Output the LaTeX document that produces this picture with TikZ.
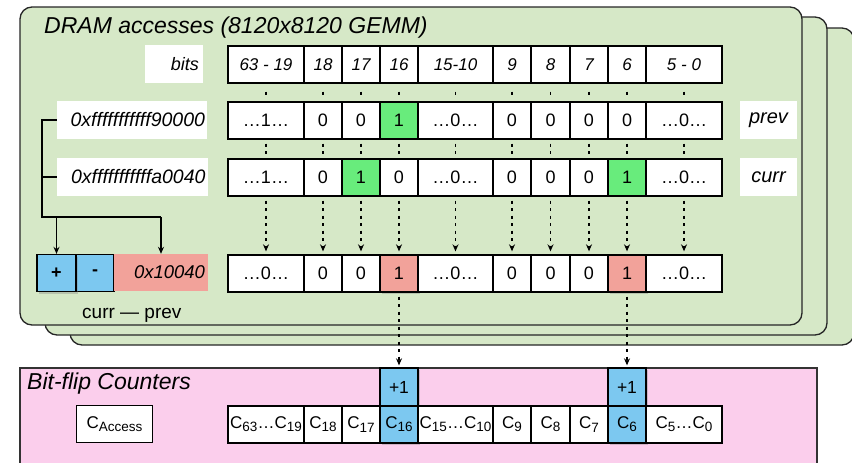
\documentclass[tikz,border=0pt]{standalone}
\usepackage{fontspec}
\setmainfont{Liberation Sans}
\usetikzlibrary{shadows,arrows.meta}
\definecolor{panelgreen}{RGB}{214,232,199}
\definecolor{panelpink}{RGB}{251,206,236}
\definecolor{bitgreen}{RGB}{104,236,124}
\definecolor{salmonc}{RGB}{242,162,154}
\definecolor{blueb}{RGB}{124,200,240}
\newcommand{\fs}[1]{\fontsize{#1}{#1}\selectfont}
\newcommand{\Cn}[1]{C\raisebox{-0.35ex}{\fs{13.5}#1}}
\newcommand{\cellrow}[4]{%
  \foreach \i/\l/\r/\t/\f in {#4} {%
    \pgfmathsetmacro\cx{(\l+\r)/2}%
    \pgfmathsetmacro\w{\r-\l}%
    \node[cell, \f, minimum width=\w pt, font=#3] (#1\i) at (\cx,#2) {\t};
  }%
}
\begin{document}
\begin{tikzpicture}[x=1pt,y=-1pt,
  panel/.style={draw=black!85, line width=1.3pt, fill=panelgreen, rounded corners=12pt},
  cell/.style={draw=black, line width=1.3pt, fill=white, inner sep=0pt, minimum height=37pt},
  wc/.style={fill=white},
  gc/.style={fill=bitgreen},
  sc/.style={fill=salmonc, drop shadow={shadow xshift=1.5pt,shadow yshift=-2pt,opacity=0.35}},
  bc/.style={fill=blueb, drop shadow={shadow xshift=1.5pt,shadow yshift=-2pt,opacity=0.35}},
  lab/.style={fill=white, inner sep=0pt, minimum height=38pt},
  wire/.style={line width=1.3pt},
  dotline/.style={line width=1.3pt, dash pattern=on 3pt off 4.5pt},
  arr/.style={-{Stealth[length=7pt,width=6pt]}},
]
\useasboundingbox (0,0) rectangle (852,463);

% stacked panels
\draw[panel] (70,28) rectangle (854,345);
\draw[panel] (45,17) rectangle (827,335);
\draw[panel] (20,7) rectangle (802,325);

\node[anchor=base west, font=\fs{23}\itshape, inner sep=0pt] (title) at (44,33) {DRAM accesses (8120x8120 GEMM)};

% row labels
\node[lab, minimum width=58pt, text width=50pt, align=right, font=\fs{18}\itshape] (bits) at (174,64) {bits};
\node[lab, minimum width=150pt, text width=146pt, align=right, font=\fs{19.5}\itshape] (plab) at (132,120) {0xfffffffffff90000};
\node[lab, minimum width=151pt, text width=146pt, align=right, font=\fs{19.5}\itshape] (clab) at (132.5,177) {0xfffffffffffa0040};
\node[lab, minimum width=57pt, font=\fs{20}\itshape] (prevl) at (768.5,120) {prev};
\node[lab, minimum width=57pt, font=\fs{20}\itshape] (currl) at (768.5,177) {curr};

% bit rows
\cellrow{h}{64.5}{\fs{17}\itshape}{1/228/304/{63 - 19}/wc, 2/304/342/18/wc, 3/342/380/17/wc, 4/380/418/16/wc, 5/418/493/15-10/wc, 6/493/531/9/wc, 7/531/570/8/wc, 8/570/608/7/wc, 9/608/646/6/wc, 10/646/722/{5 - 0}/wc}
\cellrow{p}{120.5}{\fs{18}}{1/228/304/{…1…}/wc, 2/304/342/0/wc, 3/342/380/0/wc, 4/380/418/1/gc, 5/418/493/{…0…}/wc, 6/493/531/0/wc, 7/531/570/0/wc, 8/570/608/0/wc, 9/608/646/0/wc, 10/646/722/{…0…}/wc}
\cellrow{c}{177.5}{\fs{18}}{1/228/304/{…1…}/wc, 2/304/342/0/wc, 3/342/380/1/gc, 4/380/418/0/wc, 5/418/493/{…0…}/wc, 6/493/531/0/wc, 7/531/570/0/wc, 8/570/608/0/wc, 9/608/646/1/gc, 10/646/722/{…0…}/wc}
\cellrow{r}{273.5}{\fs{18}}{1/228/304/{…0…}/wc, 2/304/342/0/wc, 3/342/380/0/wc, 4/380/418/1/sc, 5/418/493/{…0…}/wc, 6/493/531/0/wc, 7/531/570/0/wc, 8/570/608/0/wc, 9/608/646/1/sc, 10/646/722/{…0…}/wc}

% dotted guides
\foreach \i in {1,...,10} {
  \draw[dotline] ([yshift=-8pt]h\i.south) -- ([yshift=5pt]p\i.north);
  \draw[dotline] ([yshift=-4pt]p\i.south) -- ([yshift=3pt]c\i.north);
  \draw[dotline, arr] ([yshift=-4pt]c\i.south) -- ([yshift=3pt]r\i.north);
}

% subtraction unit
\node[cell, fill=blueb, minimum width=38pt, font=\fs{18}\bfseries] (minus) at (95,273) {-};
\node[cell, bc, minimum width=39pt, font=\fs{18}\bfseries] (plus) at (56.5,273) {+};
\node[fill=salmonc, inner sep=0pt, minimum width=94pt, minimum height=37pt, text width=88pt, align=right, font=\fs{18.5}\itshape] (diff) at (161,272.5) {0x10040};
\node[anchor=base west, font=\fs{19}, inner sep=0pt] (cp) at (82,318) {curr — prev};

\coordinate (j) at (42,217);
\draw[wire] (plab.west) -- (plab.west -| j) -- (j) -- (j -| diff.north);
\draw[wire] (clab.west) -- (clab.west -| j);
\draw[wire, arr] (j -| plus.north) -- (plus.north);
\draw[wire, arr] (j -| diff.north) -- (diff.north);

% bit-flip counters
\draw[draw=black!80, line width=1.3pt, fill=panelpink] (20,368) rectangle (817,480);
\node[anchor=base west, font=\fs{23}\itshape, inner sep=0pt] (bft) at (27,389) {Bit-flip Counters};

\node[cell, bc, minimum width=38pt, minimum height=38pt, font=\fs{17.5}] (inc4) at (399,387) {+1};
\node[cell, bc, minimum width=38pt, minimum height=38pt, font=\fs{17.5}] (inc9) at (627,387) {+1};

\node[cell, minimum width=76pt, font=\fs{17}] (cacc) at (114.5,424) {\Cn{Access}};
\cellrow{k}{424.5}{\fs{17}}{1/228/304/{\Cn{63}…\Cn{19}}/wc, 2/304/342/{\Cn{18}}/wc, 3/342/380/{\Cn{17}}/wc, 4/380/418/{\Cn{16}}/bc, 5/418/493/{\Cn{15}…\Cn{10}}/wc, 6/493/531/{\Cn{9}}/wc, 7/531/570/{\Cn{8}}/wc, 8/570/608/{\Cn{7}}/wc, 9/608/646/{\Cn{6}}/bc, 10/646/722/{\Cn{5}…\Cn{0}}/wc}

\draw[dotline, arr] ([yshift=-4pt]r4.south) -- ([yshift=2pt]inc4.north);
\draw[dotline, arr] ([yshift=-4pt]r9.south) -- ([yshift=2pt]inc9.north);
\end{tikzpicture}
\end{document}
